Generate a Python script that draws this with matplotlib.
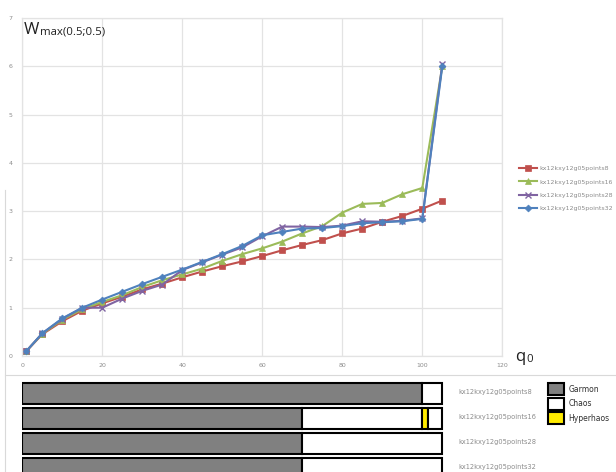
import numpy as np
import matplotlib
matplotlib.use("Agg")
import matplotlib.pyplot as plt
from matplotlib.patches import Patch
from matplotlib.lines import Line2D

# q0 values of the computed points
q0 = [1, 5, 10, 15, 20, 25, 30, 35, 40, 45, 50, 55, 60, 65, 70, 75, 80, 85, 90, 95, 100, 105]

names = ["kx12kxy12g05points8", "kx12kxy12g05points16",
         "kx12kxy12g05points28", "kx12kxy12g05points32"]

w_points8 = [0.1, 0.45, 0.72, 0.94, 1.09, 1.23, 1.38, 1.5, 1.63, 1.75, 1.86,
             1.96, 2.07, 2.19, 2.3, 2.4, 2.54, 2.64, 2.78, 2.9, 3.05, 3.22]
w_points16 = [0.1, 0.46, 0.75, 0.97, 1.12, 1.26, 1.43, 1.57, 1.69, 1.81, 1.97,
              2.11, 2.23, 2.37, 2.54, 2.69, 2.97, 3.15, 3.17, 3.35, 3.48, 6.0]
w_points28 = [0.1, 0.47, 0.77, 1.0, 1.0, 1.19, 1.35, 1.48, 1.78, 1.94, 2.1,
              2.25, 2.48, 2.68, 2.68, 2.67, 2.7, 2.79, 2.78, 2.8, 2.85, 6.05]
w_points32 = [0.1, 0.47, 0.78, 1.0, 1.17, 1.33, 1.49, 1.64, 1.79, 1.95, 2.11,
              2.28, 2.5, 2.57, 2.64, 2.65, 2.69, 2.75, 2.77, 2.79, 2.84, 6.0]

# regime segments along q0 for every series: (start, end, regime)
regimes = ["Garmon", "Chaos", "Hyperhaos"]
regime_segments = [
    [(0, 100, "Garmon"), (100, 105, "Chaos")],
    [(0, 70, "Garmon"), (70, 100, "Chaos"), (100, 101.5, "Hyperhaos"), (101.5, 105, "Chaos")],
    [(0, 70, "Garmon"), (70, 105, "Chaos")],
    [(0, 70, "Garmon"), (70, 105, "Chaos")],
]

series_styles = [("#C0504D", "s", 4), ("#9BBB59", "^", 4.5),
                 ("#8064A2", "x", 5), ("#4F81BD", "D", 3.5)]
regime_colors = {"Garmon": "#808080", "Chaos": "white", "Hyperhaos": "#FFEB00"}

W, H = 616, 472
fig = plt.figure(figsize=(W / 100, H / 100), dpi=100)

# main line chart
ax = fig.add_axes([22.3 / W, 1 - 356 / H, 480 / W, 338 / H])
series = [w_points8, w_points16, w_points28, w_points32]
for vals, name, (col, mk, ms) in zip(series, names, series_styles):
    ax.plot(q0, vals, color=col, marker=mk, markersize=ms, linewidth=1.5,
            markeredgewidth=1.0 if mk == "x" else 0.5, label=name)

ax.set_xlim(0, 120)
ax.set_ylim(0, 7)
ax.set_xticks(range(0, 121, 20))
ax.set_yticks(range(0, 8))
ax.grid(True, color="#E3E3E3", linewidth=0.9)
ax.set_axisbelow(True)
for s in ax.spines.values():
    s.set_color("#E3E3E3")
    s.set_linewidth(0.9)
ax.tick_params(length=0, labelsize=4.5, labelcolor="#8C8C8C")
ax.tick_params(axis="x", pad=5)
ax.tick_params(axis="y", pad=7)

fig.legend(loc="upper left", bbox_to_anchor=(519 / W, 1 - 166 / H), frameon=False,
           fontsize=4.5, labelcolor="#8C8C8C", handlelength=2.9, handletextpad=0.4,
           labelspacing=1.25, borderpad=0, borderaxespad=0)

# axis titles: big letter with a smaller tail right after it
wt = fig.text(24 / W, 1 - 33.5 / H, "W", fontsize=12, family="Open Sans", color="#202020",
              va="baseline")
ax.annotate("max(0.5;0.5)", xy=(1, 0), xycoords=wt, xytext=(0.5, 0), textcoords="offset points",
            fontsize=8.2, family="Open Sans", color="#202020", va="bottom", ha="left",
            annotation_clip=False)
qt = fig.text(515 / W, 1 - 361 / H, "q", fontsize=12, family="Open Sans", color="#202020",
              va="baseline")
ax.annotate("0", xy=(1, 0), xycoords=qt, xytext=(0.5, 0), textcoords="offset points",
            fontsize=8.2, family="Open Sans", color="#202020", va="bottom", ha="left",
            annotation_clip=False)

# regime bars below the chart
bx = fig.add_axes([22.3 / W, 1 - 481.3 / H, 480 / W, 100 / H])
for i, segs in enumerate(regime_segments):
    for start, end, reg in segs:
        bx.barh(i, end - start, left=start, height=0.84, color=regime_colors[reg],
                edgecolor="black", linewidth=1.5)
    bx.text(109, i - 0.06, names[i], fontsize=4.8, color="#8C8C8C", va="center", ha="left")
bx.set_xlim(0, 120)
bx.set_ylim(3.5, -0.5)
bx.axis("off")

handles = [Patch(facecolor=regime_colors[r], edgecolor="black", linewidth=1.5) for r in regimes]
fig.legend(handles, regimes, loc="upper left", bbox_to_anchor=(548 / W, 1 - 383 / H),
           frameon=False, fontsize=5.5, labelcolor="#303030", handlelength=2.1,
           handleheight=2.1, handletextpad=0.6, labelspacing=0.3, borderpad=0,
           borderaxespad=0)

# light frame lines of the bar panel
fig.add_artist(Line2D([5 / W, 1], [1 - 375 / H, 1 - 375 / H], color="#D9D9D9", linewidth=0.8))
fig.add_artist(Line2D([5 / W, 5 / W], [0, 1 - 190 / H], color="#D9D9D9", linewidth=0.8))

fig.savefig("out.png", dpi=100)
